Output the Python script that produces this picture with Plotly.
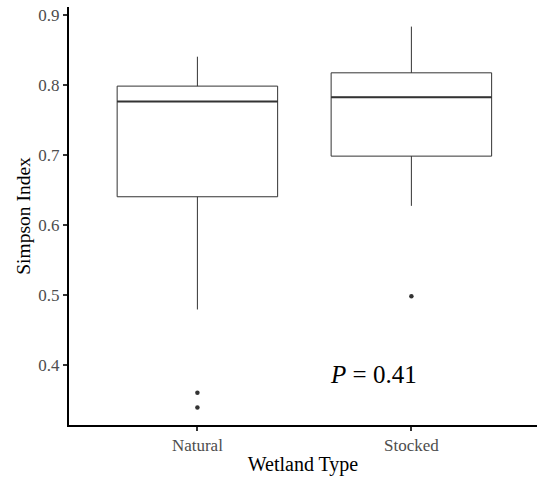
import plotly.graph_objects as go

categories = ["Natural", "Stocked"]
q1 = [0.640, 0.698]
median = [0.776, 0.782]
q3 = [0.798, 0.817]
lower_whisker = [0.479, 0.627]
upper_whisker = [0.840, 0.883]
outlier_cat = [0, 0, 1]
outlier_val = [0.360, 0.339, 0.498]
y_ticks = [0.4, 0.5, 0.6, 0.7, 0.8, 0.9]
p_text = "<i>P</i> = 0.41"

BOX_W = 0.75
FONT = "Liberation Serif"

fig = go.Figure()
xs = list(range(len(categories)))
fig.add_trace(go.Box(
    x=xs, q1=q1, median=median, q3=q3,
    lowerfence=lower_whisker, upperfence=upper_whisker,
    width=BOX_W, whiskerwidth=0,
    fillcolor="rgba(255,255,255,0)",
    line=dict(color="#333333", width=1),
    boxpoints=False, showlegend=False, hoverinfo="skip",
))
# thicker median lines
for i, m in enumerate(median):
    fig.add_trace(go.Scatter(
        x=[i - BOX_W / 2, i + BOX_W / 2], y=[m, m], mode="lines",
        line=dict(color="#333333", width=2), showlegend=False, hoverinfo="skip",
    ))
fig.add_trace(go.Scatter(
    x=outlier_cat, y=outlier_val, mode="markers",
    marker=dict(color="#333333", size=4.5), showlegend=False, hoverinfo="skip",
))

fig.add_annotation(
    x=0.825, y=0.386, xref="x", yref="y", text=p_text, showarrow=False,
    font=dict(family=FONT, size=25, color="black"), xanchor="center", yanchor="middle",
)

fig.update_layout(
    width=537, height=479,
    margin=dict(l=69, r=0, t=7, b=54),
    plot_bgcolor="white", paper_bgcolor="white",
    font=dict(family=FONT),
    xaxis=dict(
        range=[-0.6, 1.587], tickvals=xs, ticktext=categories,
        showline=True, linecolor="black", linewidth=2,
        ticks="outside", ticklen=4, tickwidth=1.5, tickcolor="#333333",
        tickfont=dict(family=FONT, size=17, color="#4D4D4D"),
        showgrid=False, zeroline=False,
        title=dict(text="Wetland Type", font=dict(family=FONT, size=20, color="black"), standoff=3),
    ),
    yaxis=dict(
        range=[0.314, 0.911], tickvals=y_ticks, ticktext=[f"{v:.1f}" for v in y_ticks],
        showline=True, linecolor="black", linewidth=2,
        ticks="outside", ticklen=4, tickwidth=1.5, tickcolor="#333333",
        tickfont=dict(family=FONT, size=17, color="#4D4D4D"),
        showgrid=False, zeroline=False,
        title=dict(text="Simpson Index", font=dict(family=FONT, size=19.5, color="black"), standoff=3),
    ),
)

fig.write_html("out.html")
